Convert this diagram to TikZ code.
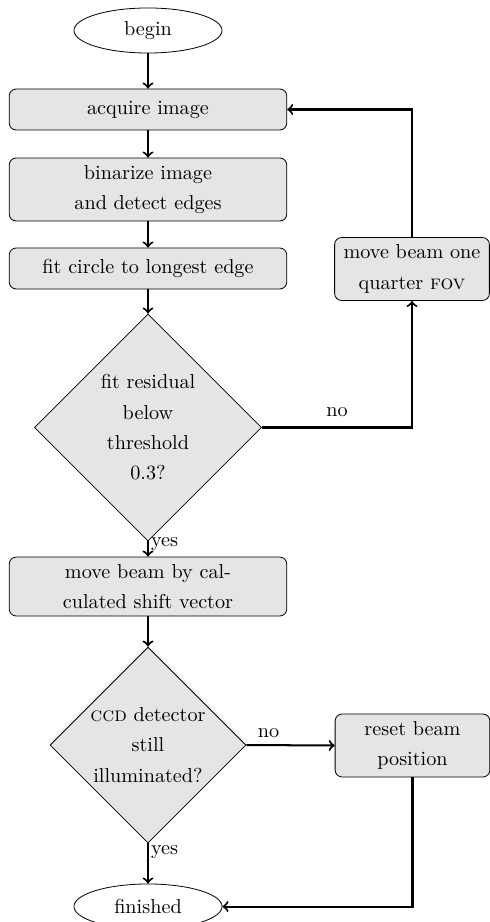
\documentclass[tikz,border=0pt]{standalone}
\usetikzlibrary{shapes.geometric}
\begin{document}
\begin{tikzpicture}[x=0.495pt,y=-0.495pt,
  every node/.style={font=\fontsize{10}{15}\selectfont},
  terminal/.style={draw, ellipse, inner sep=0pt, minimum width=73.3pt, minimum height=22.3pt},
  process/.style={draw, fill=gray!20, rounded corners=3.5pt, align=center, inner sep=0pt,
                  minimum width=137.4pt, minimum height=20.3pt},
  sideproc/.style={process, minimum width=76.6pt, minimum height=31.2pt},
  decision/.style={draw, fill=gray!20, diamond, aspect=1, inner sep=0pt},
  flow/.style={->, line width=1pt},
  lbl/.style={inner sep=1pt}]
\useasboundingbox (0,0) rectangle (490,922);

% main column
\node[terminal] (begin) at (148,30.5) {begin};
\node[process] (acquire) at (148,109.5) {acquire image};
\node[process, minimum height=31.2pt] (binarize) at (148,189.5) {binarize image\\and detect edges};
\node[process] (fit) at (148,268.5) {fit circle to longest edge};
\node[decision, minimum size=112.4pt] (resid) at (148,427.5) {};
\node[align=center] (residtxt) at (resid.center) {fit residual\\below\\threshold\\0.3?};
\node[process, minimum height=29.2pt] (shift) at (148,586.5) {move beam by cal-\\culated shift vector};
\node[decision, minimum size=97pt] (ccd) at (148,745) {};
\node[align=center] (ccdtxt) at (ccd.center) {\textsc{ccd} detector\\still\\illuminated?};
\node[terminal] (finished) at (148,906.5) {finished};

% side branches
\node[sideproc] (quarter) at (412,269) {move beam one\\quarter \textsc{fov}};
\node[sideproc] (reset) at (412.5,745.5) {reset beam\\position};

% connectors
\draw[flow] (begin) -- (acquire);
\draw[flow] (acquire) -- (binarize);
\draw[flow] (binarize) -- (fit);
\draw[flow] (fit) -- (resid.north);
\draw[flow] (resid.south) -- node[lbl, pos=0.15, right] {yes} (shift);
\draw[flow] (resid.east) -| node[lbl, pos=0.25, above=4pt] {no} (quarter.south);
\draw[flow] (quarter.north) |- (acquire.east);
\draw[flow] (shift) -- (ccd.north);
\draw[flow] (ccd.east) -- node[lbl, pos=0.25, above=2pt] {no} (reset.west);
\draw[flow] (ccd.south) -- node[lbl, pos=0.22, right] {yes} (finished);
\draw[flow] (reset.south) |- (finished.east);
\end{tikzpicture}
\end{document}
